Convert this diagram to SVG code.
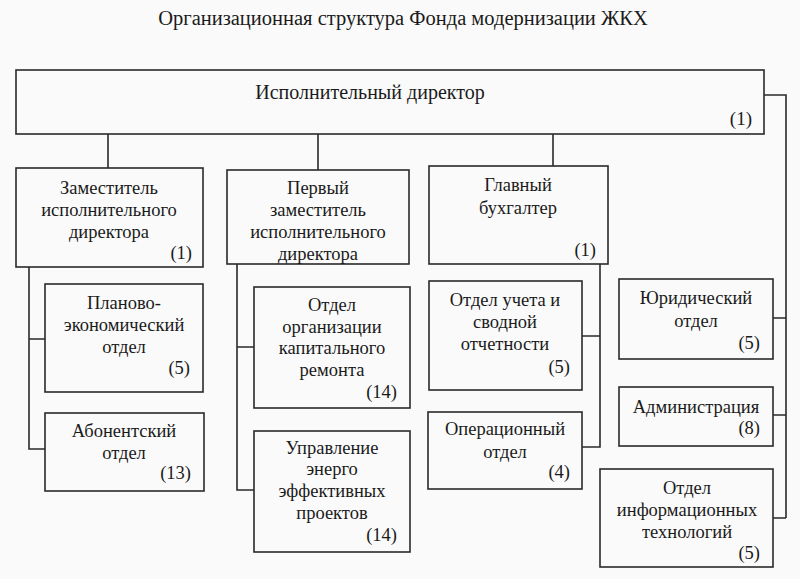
<svg xmlns="http://www.w3.org/2000/svg" width="800" height="579" viewBox="0 0 800 579">
<style>
.box{fill:none;stroke:#2a2a2a;stroke-width:1.6}
.ln{fill:none;stroke:#2a2a2a;stroke-width:1.6}
.t{font-size:18.5px;text-anchor:middle}
.n{font-size:18.5px;text-anchor:end}
</style>
<rect width="800" height="579" fill="#fafafa"/>
<g font-family="'Liberation Serif', 'Times New Roman', serif" fill="#1a1a1a">
<text x="403" y="25" font-size="20.5" text-anchor="middle">Организационная структура Фонда модернизации ЖКХ</text>

<g id="connectors">
<path class="ln" d="M108,134 V168 M318,134 V170 M553,134 V166 M764,95 H786 V518"/>
<path class="ln" d="M29,267 V449 H45 M29,339 H45"/>
<path class="ln" d="M237,264 V490 H254 M237,347 H254"/>
<path class="ln" d="M600,264 V447 H582 M600,336 H582"/>
<path class="ln" d="M786,318 H773 M786,415 H773 M786,518 H773"/>
</g>

<g id="n0">
<rect class="box" x="16" y="70" width="748" height="64"/>
<text x="370" y="99" font-size="20" text-anchor="middle">Исполнительный директор</text>
<text x="752" y="125" font-size="19" text-anchor="end">(1)</text>
</g>

<g id="n1">
<rect class="box" x="16" y="168" width="187" height="99"/>
<text class="t" x="109" y="194">Заместитель</text>
<text class="t" x="109" y="216">исполнительного</text>
<text class="t" x="109" y="238">директора</text>
<text class="n" x="192" y="259">(1)</text>
</g>

<g id="n2">
<rect class="box" x="227" y="170" width="182" height="94"/>
<text class="t" x="318" y="194">Первый</text>
<text class="t" x="318" y="216">заместитель</text>
<text class="t" x="318" y="238">исполнительного</text>
<text class="t" x="318" y="260">директора</text>
</g>

<g id="n3">
<rect class="box" x="429" y="166" width="179" height="98"/>
<text class="t" x="518" y="191">Главный</text>
<text class="t" x="518" y="214">бухгалтер</text>
<text class="n" x="596" y="256">(1)</text>
</g>

<g id="n4">
<rect class="box" x="45" y="284" width="158" height="108"/>
<text class="t" x="124" y="309">Планово-</text>
<text class="t" x="124" y="331">экономический</text>
<text class="t" x="124" y="353">отдел</text>
<text class="n" x="190" y="374">(5)</text>
</g>

<g id="n5">
<rect class="box" x="45" y="413" width="159" height="78"/>
<text class="t" x="124" y="437">Абонентский</text>
<text class="t" x="124" y="459">отдел</text>
<text class="n" x="191" y="479">(13)</text>
</g>

<g id="n6">
<rect class="box" x="254" y="287" width="156" height="121"/>
<text class="t" x="332" y="311">Отдел</text>
<text class="t" x="332" y="333">организации</text>
<text class="t" x="332" y="354">капитального</text>
<text class="t" x="332" y="376">ремонта</text>
<text class="n" x="397" y="398">(14)</text>
</g>

<g id="n7">
<rect class="box" x="254" y="431" width="156" height="121"/>
<text class="t" x="332" y="454">Управление</text>
<text class="t" x="332" y="475">энерго</text>
<text class="t" x="332" y="497">эффективных</text>
<text class="t" x="332" y="519">проектов</text>
<text class="n" x="397" y="541">(14)</text>
</g>

<g id="n8">
<rect class="box" x="429" y="281" width="153" height="109"/>
<text class="t" x="505" y="306">Отдел учета и</text>
<text class="t" x="505" y="328">сводной</text>
<text class="t" x="505" y="350">отчетности</text>
<text class="n" x="570" y="373">(5)</text>
</g>

<g id="n9">
<rect class="box" x="428" y="412" width="154" height="77"/>
<text class="t" x="505" y="435">Операционный</text>
<text class="t" x="505" y="458">отдел</text>
<text class="n" x="570" y="478">(4)</text>
</g>

<g id="n10">
<rect class="box" x="619" y="279" width="154" height="80"/>
<text class="t" x="696" y="304">Юридический</text>
<text class="t" x="696" y="327">отдел</text>
<text class="n" x="760" y="349">(5)</text>
</g>

<g id="n11">
<rect class="box" x="619" y="387" width="154" height="59"/>
<text class="t" x="696" y="413">Администрация</text>
<text class="n" x="760" y="434">(8)</text>
</g>

<g id="n12">
<rect class="box" x="600" y="469" width="173" height="98"/>
<text class="t" x="687" y="494">Отдел</text>
<text class="t" x="687" y="516">информационных</text>
<text class="t" x="687" y="538">технологий</text>
<text class="n" x="760" y="559">(5)</text>
</g>
</g>
</svg>
